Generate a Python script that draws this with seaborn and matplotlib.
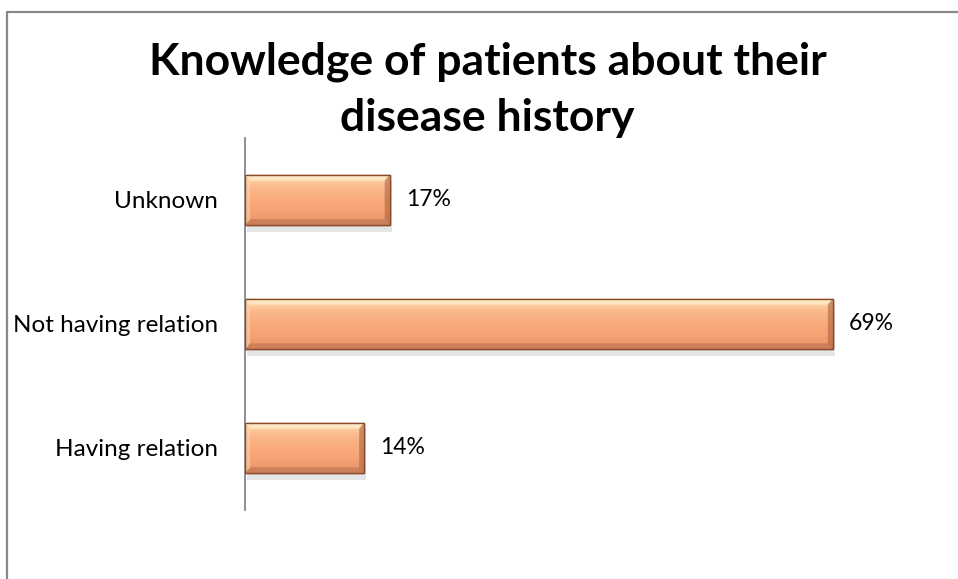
import numpy as np
import pandas as pd
import matplotlib
matplotlib.use("Agg")
import matplotlib.pyplot as plt
import seaborn as sns
from matplotlib.colors import LinearSegmentedColormap
from matplotlib.patches import Rectangle, Polygon

categories = ["Unknown", "Not having relation", "Having relation"]
percentages = [17, 69, 14]
value_labels = ["17%", "69%", "14%"]
title_text = "Knowledge of patients about their\ndisease history"

df = pd.DataFrame({"category": categories, "percent": percentages})

sns.set_theme(style="white")
plt.rcParams["font.family"] = ["Lato", "DejaVu Sans"]

fig = plt.figure(figsize=(9.58, 5.79), dpi=100)
ax = fig.add_axes([0.2557, 0.1192, 0.7116, 0.6425])

sns.barplot(data=df, x="percent", y="category", order=categories,
            color="#F9AA7C", width=0.41, edgecolor="#8A4A2C", linewidth=1.0,
            saturation=1, ax=ax, zorder=3)

# vertical shading on each bar: pale top, warm middle, darker bottom
shade = LinearSegmentedColormap.from_list(
    "peach", ["#FEE0B4", "#FBB98C", "#F9AA7C", "#F6A274", "#E2906A"])
grad = np.linspace(0, 1, 64).reshape(-1, 1)
bars = list(ax.patches)
for bar in bars:
    x0, y0 = bar.get_x(), bar.get_y()
    w, h = bar.get_width(), bar.get_height()
    # soft drop shadow under the bar
    ax.add_patch(Rectangle((x0 + 0.2, y0 + 0.05), w, h, facecolor="#000000",
                           alpha=0.10, edgecolor="none", zorder=2))
    im = ax.imshow(grad, cmap=shade, aspect="auto",
                   extent=(x0, x0 + w, y0 + h, y0), zorder=3.5,
                   interpolation="bicubic")
    im.set_clip_path(bar)
    # bevel: light top band, dark bottom and right bands with mitred corners
    bw = h * 0.12
    bx = 0.6
    ax.add_patch(Polygon([(x0, y0), (x0 + w, y0), (x0 + w - bx, y0 + bw),
                          (x0 + bx, y0 + bw)], closed=True,
                         facecolor="#FFEBC8", edgecolor="none", alpha=0.85,
                         zorder=3.6))
    ax.add_patch(Polygon([(x0, y0 + h), (x0 + w, y0 + h),
                          (x0 + w - bx, y0 + h - bw), (x0 + bx, y0 + h - bw)],
                         closed=True, facecolor="#B9704A", edgecolor="none",
                         alpha=0.55, zorder=3.6))
    ax.add_patch(Polygon([(x0 + w, y0), (x0 + w, y0 + h),
                          (x0 + w - bx, y0 + h - bw), (x0 + w - bx, y0 + bw)],
                         closed=True, facecolor="#A65E3A", edgecolor="none",
                         alpha=0.55, zorder=3.6))
    ax.add_patch(Polygon([(x0, y0), (x0, y0 + h),
                          (x0 + bx, y0 + h - bw), (x0 + bx, y0 + bw)],
                         closed=True, facecolor="#FCD3A8", edgecolor="none",
                         alpha=0.6, zorder=3.6))
    ax.add_patch(Rectangle((x0, y0), w, h, facecolor="none",
                           edgecolor="#8A4A2C", linewidth=1.0, zorder=3.7))

for bar, lab in zip(bars, value_labels):
    ax.text(bar.get_x() + bar.get_width() + 1.9,
            bar.get_y() + bar.get_height() / 2, lab,
            va="center", ha="left", fontsize=16.5, color="#000000")

ax.set_xlim(0, 80)
ax.set_ylim(2.5, -0.5)
ax.set_xlabel("")
ax.set_ylabel("")
ax.set_xticks([])
ax.tick_params(axis="y", length=0, pad=19.5, labelsize=17.5, labelcolor="#000000")
for side in ["top", "right", "bottom"]:
    ax.spines[side].set_visible(False)
ax.spines["left"].set_color("#868686")
ax.spines["left"].set_linewidth(1.3)

fig.text(0.509, 0.845, title_text, ha="center", va="center",
         fontsize=32, fontweight="bold", linespacing=1.49, color="#000000")

# chart frame (only top and left edges fall inside the canvas)
fig.add_artist(plt.Line2D([0.0078, 1.0], [0.9785, 0.9785],
                          transform=fig.transFigure, color="#888888", lw=1.6))
fig.add_artist(plt.Line2D([0.0078, 0.0078], [0.0, 0.9785],
                          transform=fig.transFigure, color="#888888", lw=1.6))

fig.savefig("out.png", dpi=100, facecolor="white")
